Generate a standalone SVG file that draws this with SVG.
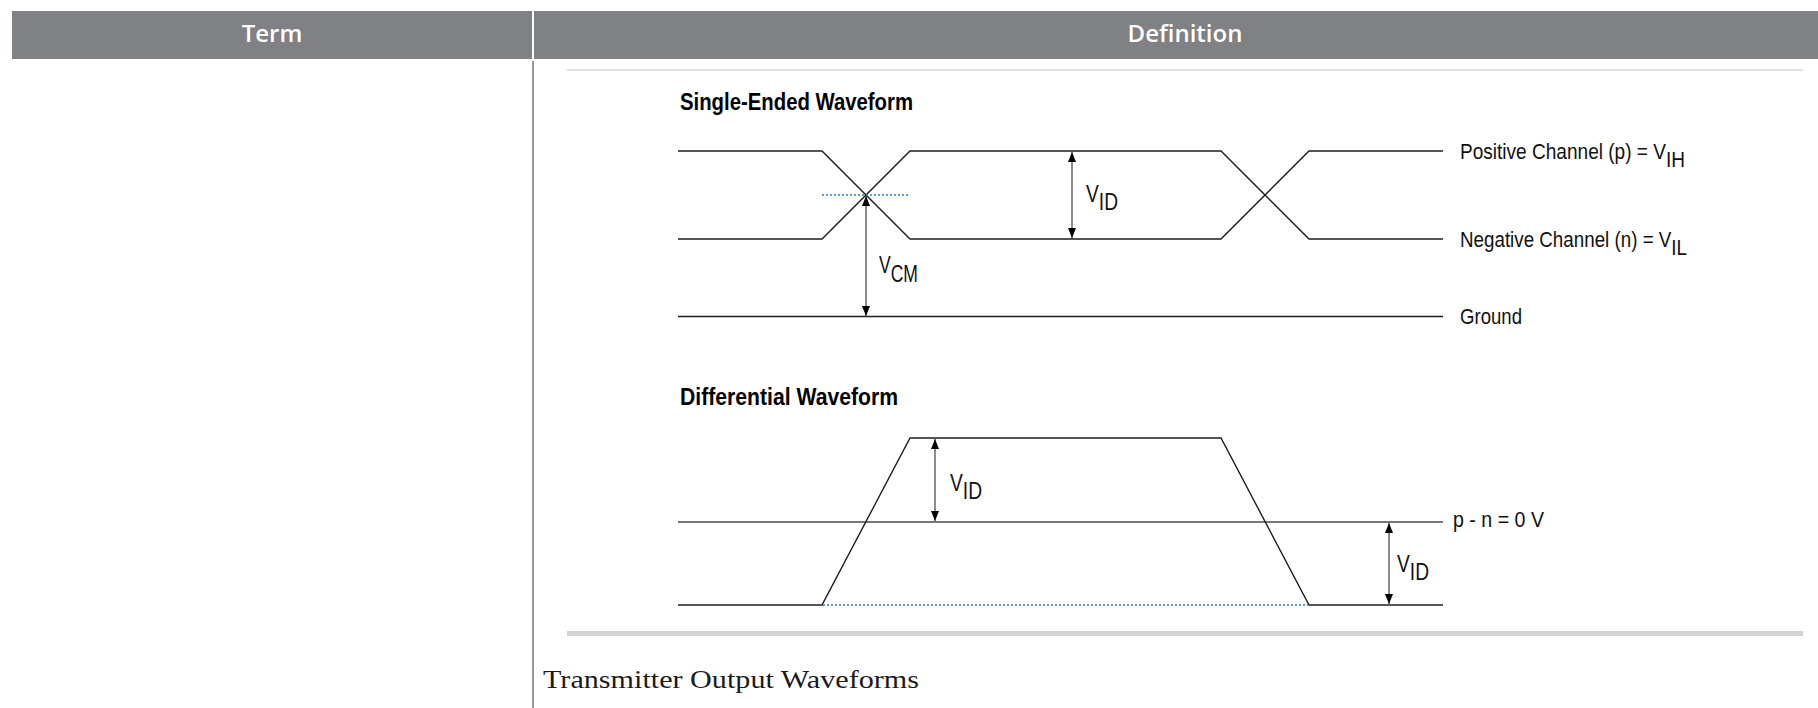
<svg xmlns="http://www.w3.org/2000/svg" width="1818" height="708" viewBox="0 0 1818 708">
  <style>
    .hdr { fill: #808184; }
    .htxt { font-family: "Open Sans", "Liberation Sans", sans-serif; font-weight: 600; font-size: 24px; fill: #ffffff; text-anchor: middle; }
    .title { font-family: "Liberation Sans Narrow", "Liberation Sans", sans-serif; font-weight: bold; font-size: 23px; fill: #000; }
    .lbl { font-family: "Liberation Sans Narrow", "Liberation Sans", sans-serif; font-size: 22px; fill: #111; }
    .v { font-family: "Liberation Sans Narrow", "Liberation Sans", sans-serif; font-size: 23px; fill: #111; }
    .cap { font-family: "Liberation Serif", serif; font-size: 26px; fill: #1a1a1a; }
    .wave { fill: none; stroke: #1e1e1e; stroke-width: 1.4; stroke-linejoin: miter; }
    .mid { fill: none; stroke: #777; stroke-width: 2; }
    .dot { fill: none; stroke: #2f7bb4; stroke-width: 1.3; stroke-dasharray: 2 2; }
    .dim { fill: none; stroke: #666; stroke-width: 1.5; marker-start: url(#ah); marker-end: url(#ah); }
  </style>
  <defs>
    <marker id="ah" markerUnits="userSpaceOnUse" viewBox="0 0 10 8" markerWidth="10" markerHeight="8" refX="10" refY="4" orient="auto-start-reverse">
      <path d="M0,0 L10,4 L0,8 z" fill="#000"/>
    </marker>
  </defs>
  <rect width="1818" height="708" fill="#ffffff"/>

  <g id="header">
    <rect class="hdr" x="12" y="11" width="520" height="48"/>
    <rect class="hdr" x="534" y="11" width="1284" height="48"/>
    <text class="htxt" x="272" y="42">Term</text>
    <text class="htxt" x="1185" y="42">Definition</text>
  </g>

  <g id="table-lines">
    <line x1="533" y1="61" x2="533" y2="708" stroke="#9a9a9a" stroke-width="2"/>
    <line x1="567" y1="70" x2="1803" y2="70" stroke="#d6d6d6" stroke-width="1.5"/>
    <line x1="567" y1="633.5" x2="1803" y2="633.5" stroke="#d1d2d4" stroke-width="5"/>
  </g>

  <g id="single-ended">
    <text class="title" x="680" y="110" textLength="233" lengthAdjust="spacingAndGlyphs">Single-Ended Waveform</text>
    <polyline class="wave" points="678,151 822,151 910,239 1221,239 1309,151 1443,151"/>
    <polyline class="wave" points="678,239 822,239 910,151 1221,151 1309,239 1443,239"/>
    <line class="wave" x1="678" y1="316.5" x2="1443" y2="316.5"/>
    <line class="dot" x1="822" y1="195" x2="910" y2="195"/>
    <text class="lbl" x="1460" y="159" textLength="225" lengthAdjust="spacingAndGlyphs">Positive Channel (p) = V<tspan dy="8">IH</tspan></text>
    <text class="lbl" x="1460" y="247" textLength="227" lengthAdjust="spacingAndGlyphs">Negative Channel (n) = V<tspan dy="8">IL</tspan></text>
    <text class="lbl" x="1460" y="324" textLength="62" lengthAdjust="spacingAndGlyphs">Ground</text>
  </g>

  <g id="differential">
    <text class="title" x="680" y="405" textLength="218" lengthAdjust="spacingAndGlyphs">Differential Waveform</text>
    <line class="mid" x1="678" y1="522" x2="1443" y2="522"/>
    <polyline class="wave" points="678,605 822,605 910,438 1221,438 1309,605 1443,605"/>
    <line class="dot" x1="823" y1="605" x2="1308" y2="605"/>
    <text class="lbl" x="1453" y="527" textLength="91" lengthAdjust="spacingAndGlyphs">p - n = 0 V</text>
  </g>

  <g id="connectors">
    <line class="dim" x1="866" y1="196" x2="866" y2="316"/>
    <line class="dim" x1="1072" y1="152" x2="1072" y2="238"/>
    <line class="dim" x1="935" y1="439" x2="935" y2="521"/>
    <line class="dim" x1="1389" y1="523" x2="1389" y2="604"/>
  </g>

  <g id="dim-labels">
    <text class="v" x="879" y="273" textLength="39" lengthAdjust="spacingAndGlyphs">V<tspan dy="9">CM</tspan></text>
    <text class="v" x="1086" y="202" textLength="32" lengthAdjust="spacingAndGlyphs">V<tspan dy="8">ID</tspan></text>
    <text class="v" x="950" y="491" textLength="32" lengthAdjust="spacingAndGlyphs">V<tspan dy="8">ID</tspan></text>
    <text class="v" x="1397" y="572" textLength="32" lengthAdjust="spacingAndGlyphs">V<tspan dy="8">ID</tspan></text>
  </g>

  <text class="cap" x="543" y="688" textLength="376" lengthAdjust="spacingAndGlyphs">Transmitter Output Waveforms</text>
</svg>
